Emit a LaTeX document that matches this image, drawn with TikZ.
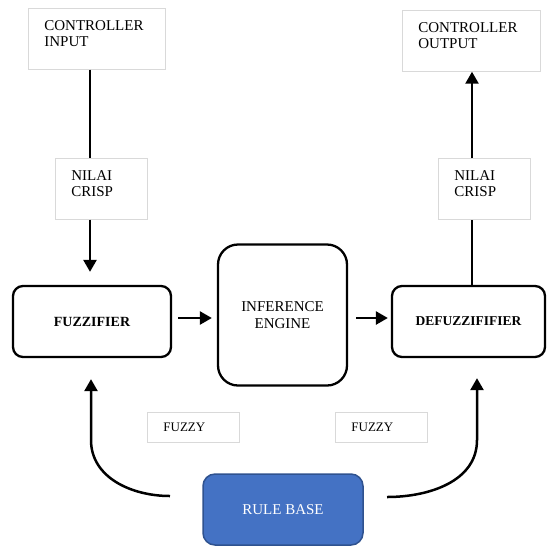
\documentclass[tikz,border=0pt]{standalone}
\usepackage{fontspec}
\setmainfont{Liberation Serif}
\usetikzlibrary{arrows.meta,calc}
\definecolor{boxgray}{HTML}{D9D9D9}
\definecolor{rulefill}{HTML}{4472C4}
\definecolor{ruledraw}{HTML}{2F528F}
\tikzset{
    textbox/.style = {rectangle,
                    draw=boxgray,
                    line width=0.8pt,
                    anchor=north west,
                    align=left,
                    text width=#1,
                    inner xsep=16pt,
                    inner ysep=12pt,
                    text depth=27pt,
                    font=\fontsize{15}{16.5}\selectfont},
    fuzzybox/.style = {rectangle,
                    draw=boxgray,
                    line width=0.8pt,
                    anchor=north west,
                    align=left,
                    text width=60pt,
                    inner xsep=16pt,
                    minimum height=30pt,
                    font=\fontsize{13}{15}\selectfont},
    block/.style =  {rectangle,
                    rounded corners=10pt,
                    draw=black,
                    line width=2.3pt,
                    align=center,
                    font=\fontsize{15}{16.3}\selectfont},
    rulebox/.style = {rectangle,
                    rounded corners=12pt,
                    fill=rulefill,
                    draw=ruledraw,
                    line width=1.5pt,
                    text=white,
                    font=\fontsize{15}{17}\selectfont},
    plain/.style =  {line width=2.5pt},
    flow/.style =   {line width=2.5pt, -{Triangle[width=13pt,length=12pt]}},
}
\begin{document}
\begin{tikzpicture}[x=1pt,y=-1pt]
    \useasboundingbox (0,0) rectangle (548,547);

    \node[textbox=105pt]   (ctlin)  at (28,8)    {CONTROLLER\\INPUT};
    \node[textbox=106pt]   (ctlout) at (402,10)  {CONTROLLER\\OUTPUT};
    \node[textbox=60pt]    (crispl) at (55,158)  {NILAI\\CRISP};
    \node[textbox=60pt]    (crispr) at (438,158) {NILAI\\CRISP};
    \node[fuzzybox]        (fuzzyl) at (147,412) {FUZZY};
    \node[fuzzybox]        (fuzzyr) at (335,412) {FUZZY};

    \node[block, minimum width=158pt, minimum height=71pt,
          font=\fontsize{14}{16}\selectfont\bfseries]          (fuzz)   at (92,321.5)  {FUZZIFIER};
    \node[block, minimum width=129pt, minimum height=141pt,
          rounded corners=20pt]                               (infer)  at (282.5,315) {INFERENCE\\ENGINE};
    \node[block, minimum width=153pt, minimum height=71pt,
          font=\fontsize{13.5}{16}\selectfont\bfseries]        (defuzz) at (468.5,321.5) {DEFUZZIFIFIER};
    \node[rulebox, minimum width=160pt, minimum height=71pt] (rb)     at (283,509.5)  {RULE BASE};

    \coordinate (lx)    at (90,0);
    \coordinate (rx)    at (472,0);
    \coordinate (rbl)   at (170,496);
    \coordinate (rbr)   at (387,497);
    \coordinate (lbend) at (91,440);
    \coordinate (rbend) at (477,440);

    % crisp in and out
    \draw[plain] (ctlin.south -| lx) -- (crispl.north -| lx);
    \draw[flow, shorten >=13pt] (crispl.south -| lx) -- (fuzz.north -| lx);
    \draw[plain] (defuzz.north -| rx) -- (crispr.south -| rx);
    \draw[flow] (crispr.north -| rx) -- (ctlout.south -| rx);

    % main chain
    \draw[flow, shorten <=6pt, shorten >=5pt] ([yshift=3.5pt]fuzz.east) -- ([yshift=3.5pt]fuzz.east -| infer.west);
    \draw[flow, shorten <=8pt, shorten >=3pt] ([yshift=3.5pt]fuzz.east -| infer.east) -- ([yshift=3.5pt]defuzz.west);

    % rule base feedback
    \draw[flow, shorten >=21pt] (rbl) to[out=180,in=-90] (lbend) -- (lbend |- fuzz.south);
    \draw[flow, shorten >=20pt] (rbr) to[out=0,in=-90] (rbend) -- (rbend |- defuzz.south);
\end{tikzpicture}
\end{document}
